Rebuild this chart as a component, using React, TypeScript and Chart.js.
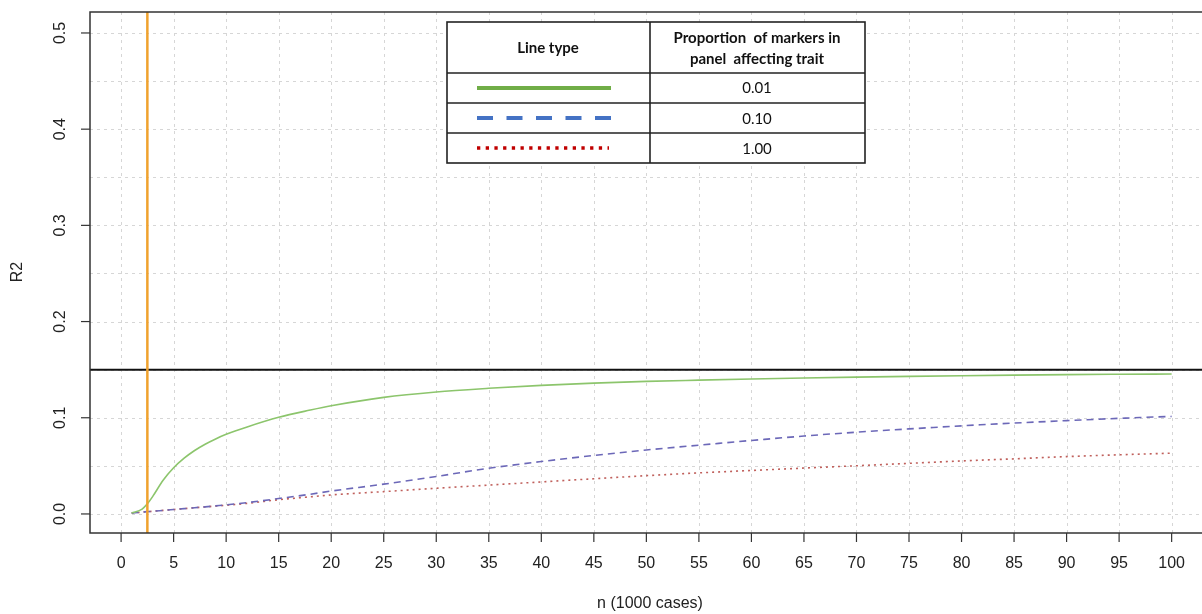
import React, { useEffect, useRef } from 'react';
import { Chart, registerables } from 'chart.js';

Chart.register(...registerables);

// ---- data ----
const nValues = [1, 2, 2.5, 3, 4, 5, 6, 7, 8, 9, 10, 12, 15, 18, 20, 25, 30, 35, 40, 45, 50, 55, 60, 65, 70, 75, 80, 85, 90, 95, 100];
const r2Prop001 = [0.001, 0.005, 0.0105, 0.018, 0.035, 0.048, 0.058, 0.066, 0.0725, 0.078, 0.0828, 0.0905, 0.1005, 0.108, 0.1125, 0.1212, 0.1268, 0.1306, 0.1337, 0.136, 0.1378, 0.1391, 0.1403, 0.1413, 0.1422, 0.143, 0.1437, 0.1443, 0.1448, 0.1452, 0.1455];
const r2Prop010 = [0.001, 0.0019, 0.0024, 0.0028, 0.0037, 0.0046, 0.0055, 0.0065, 0.0074, 0.0084, 0.0094, 0.0118, 0.016, 0.0205, 0.0238, 0.031, 0.039, 0.0475, 0.0545, 0.0608, 0.0665, 0.0715, 0.0764, 0.081, 0.085, 0.0884, 0.0916, 0.0945, 0.097, 0.0994, 0.1014];
const r2Prop100 = [0.001, 0.0019, 0.0024, 0.0028, 0.0037, 0.0046, 0.0055, 0.0064, 0.0073, 0.0082, 0.0091, 0.011, 0.0148, 0.0178, 0.0198, 0.0232, 0.0267, 0.03, 0.0333, 0.0366, 0.0398, 0.0427, 0.0452, 0.0477, 0.0501, 0.0526, 0.0551, 0.0573, 0.0596, 0.0615, 0.0632];

const xTicks = [0, 5, 10, 15, 20, 25, 30, 35, 40, 45, 50, 55, 60, 65, 70, 75, 80, 85, 90, 95, 100];
const xTickLabels = ['0', '5', '10', '15', '20', '25', '30', '35', '40', '45', '50', '55', '60', '65', '70', '75', '80', '85', '90', '95', '100'];
const yTicks = [0, 0.1, 0.2, 0.3, 0.4, 0.5];
const yTickLabels = ['0.0', '0.1', '0.2', '0.3', '0.4', '0.5'];
const yGrid = [0, 0.05, 0.1, 0.15, 0.2, 0.25, 0.3, 0.35, 0.4, 0.45, 0.5];

const thresholdR2 = 0.15;
const markerN = 2.5;

const xTitle = 'n (1000 cases)';
const yTitle = 'R2';

const tableHeaders = ['Line type', 'Proportion  of markers in', 'panel  affecting trait'];
const tableValues = ['0.01', '0.10', '1.00'];

const AXIS_FONT = '16px "Liberation Sans", Arial, sans-serif';

function line(ctx: CanvasRenderingContext2D, x1: number, y1: number, x2: number, y2: number) {
  ctx.beginPath();
  ctx.moveTo(x1, y1);
  ctx.lineTo(x2, y2);
  ctx.stroke();
}

const decorPlugin = {
  id: 'rdecor',
  beforeDraw(chart: any) {
    const { ctx, width, height } = chart;
    ctx.save();
    ctx.fillStyle = '#ffffff';
    ctx.fillRect(0, 0, width, height);
    ctx.restore();
  },
  beforeDatasetsDraw(chart: any) {
    const { ctx, chartArea, scales } = chart;
    const { left, right, top, bottom } = chartArea;
    const x = scales.x;
    const y = scales.y;
    ctx.save();
    ctx.strokeStyle = '#d6d6d6';
    ctx.lineWidth = 1;
    ctx.setLineDash([3, 4]);
    xTicks.forEach((v) => {
      const px = Math.round(x.getPixelForValue(v)) + 0.5;
      line(ctx, px, top, px, bottom);
    });
    yGrid.forEach((v) => {
      const py = Math.round(y.getPixelForValue(v)) + 0.5;
      line(ctx, left, py, right, py);
    });
    ctx.restore();
  },
  afterDatasetsDraw(chart: any) {
    const { ctx, chartArea, scales } = chart;
    const { left, right, top, bottom } = chartArea;
    const x = scales.x;
    const y = scales.y;
    ctx.save();
    ctx.setLineDash([]);

    // threshold line
    ctx.strokeStyle = '#111111';
    ctx.lineWidth = 2;
    const ty = y.getPixelForValue(thresholdR2);
    line(ctx, left, ty, right, ty);

    // orange marker line
    ctx.strokeStyle = '#f0a22e';
    ctx.lineWidth = 2.5;
    const ox = x.getPixelForValue(markerN);
    line(ctx, ox, top, ox, bottom);

    // box
    ctx.strokeStyle = '#333333';
    ctx.lineWidth = 1.5;
    ctx.strokeRect(left, top, right - left + 20, bottom - top);

    // ticks
    ctx.lineWidth = 1.2;
    ctx.fillStyle = '#222222';
    ctx.font = AXIS_FONT;
    ctx.textAlign = 'center';
    ctx.textBaseline = 'middle';
    xTicks.forEach((v, i) => {
      const px = x.getPixelForValue(v);
      line(ctx, px, bottom, px, bottom + 9);
      ctx.fillText(xTickLabels[i], px, 564);
    });
    yTicks.forEach((v, i) => {
      const py = y.getPixelForValue(v);
      line(ctx, left, py, left - 9, py);
      ctx.save();
      ctx.translate(61, py);
      ctx.rotate(-Math.PI / 2);
      ctx.fillText(yTickLabels[i], 0, 0);
      ctx.restore();
    });

    // axis titles
    ctx.fillText(xTitle, 650, 604);
    ctx.save();
    ctx.translate(18, 272);
    ctx.rotate(-Math.PI / 2);
    ctx.fillText(yTitle, 0, 0);
    ctx.restore();

    // legend table
    const tl = 447, tr = 865, tt = 22, tb = 163, col = 650;
    const rows = [73, 103, 133];
    ctx.fillStyle = '#ffffff';
    ctx.fillRect(tl, tt, tr - tl, tb - tt);
    ctx.strokeStyle = '#222222';
    ctx.lineWidth = 1.6;
    ctx.strokeRect(tl, tt, tr - tl, tb - tt);
    line(ctx, col, tt, col, tb);
    rows.forEach((r) => line(ctx, tl, r, tr, r));

    ctx.fillStyle = '#111111';
    ctx.font = 'bold 15px Lato, "Open Sans", sans-serif';
    ctx.fillText(tableHeaders[0], 548, 48);
    ctx.fillText(tableHeaders[1], 757, 38);
    ctx.fillText(tableHeaders[2], 757, 59);
    ctx.font = '15px Lato, "Open Sans", sans-serif';
    const rowCenters = [88.5, 119, 149];
    tableValues.forEach((t, i) => ctx.fillText(t, 757, rowCenters[i]));

    // legend line samples
    ctx.lineCap = 'butt';
    ctx.strokeStyle = '#70ad47';
    ctx.lineWidth = 4;
    line(ctx, 477, 88, 611, 88);
    ctx.strokeStyle = '#4472c4';
    ctx.setLineDash([16, 13.5]);
    line(ctx, 477, 118, 611, 118);
    ctx.strokeStyle = '#c00000';
    ctx.lineWidth = 3.5;
    ctx.setLineDash([3.3, 5.4]);
    line(ctx, 477, 148, 609, 148);

    ctx.restore();
  },
};

export default function App() {
  const canvasRef = useRef<HTMLCanvasElement | null>(null);

  useEffect(() => {
    const canvas = canvasRef.current;
    if (!canvas) return;
    const toPts = (ys: number[]) => nValues.map((n, i) => ({ x: n, y: ys[i] }));
    const chart = new Chart(canvas, {
      type: 'line',
      data: {
        datasets: [
          {
            label: '0.01',
            data: toPts(r2Prop001),
            borderColor: '#8cc56c',
            borderWidth: 1.6,
            pointRadius: 0,
            cubicInterpolationMode: 'monotone',
            fill: false,
          },
          {
            label: '0.10',
            data: toPts(r2Prop010),
            borderColor: '#6c68b8',
            borderWidth: 1.6,
            borderDash: [7, 5],
            pointRadius: 0,
            cubicInterpolationMode: 'monotone',
            fill: false,
          },
          {
            label: '1.00',
            data: toPts(r2Prop100),
            borderColor: '#c0605c',
            borderWidth: 1.6,
            borderDash: [2, 4],
            pointRadius: 0,
            cubicInterpolationMode: 'monotone',
            fill: false,
          },
        ],
      },
      options: {
        animation: false,
        responsive: false,
        events: [],
        layout: { padding: { left: 90, top: 12, right: 0, bottom: 81 } },
        plugins: { legend: { display: false }, tooltip: { enabled: false }, title: { display: false } },
        scales: {
          x: { type: 'linear', display: false, min: -2.96, max: 102.89 },
          y: { type: 'linear', display: false, min: -0.0198, max: 0.5218 },
        },
      },
      plugins: [decorPlugin],
    });
    return () => chart.destroy();
  }, []);

  return (
    <div style={{ position: 'fixed', left: 0, top: 0, width: 1202, height: 614, background: '#fff' }}>
      <canvas ref={canvasRef} width={1202} height={614} style={{ display: 'block' }} />
    </div>
  );
}
